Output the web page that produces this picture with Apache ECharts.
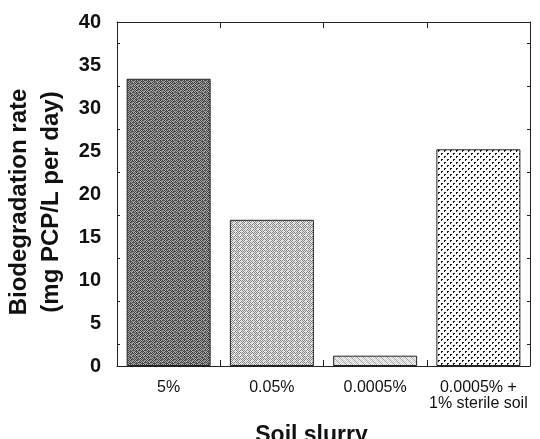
<!DOCTYPE html>
<html>
<head>
<meta charset="utf-8">
<script src="https://cdn.jsdelivr.net/npm/echarts@6/dist/echarts.min.js"></script>
<style>
  html, body { margin: 0; padding: 0; background: #fff; }
  #chart { width: 540px; height: 439px; }
</style>
</head>
<body>
<div id="chart"></div>
<script>
// soil slurry concentrations
var categories = ['5%', '0.05%', '0.0005%', '0.0005% +\n1% sterile soil'];
// biodegradation rate, mg PCP/L per day
var rates = [33.4, 17.0, 1.2, 25.2];
var yTicks = [0, 5, 10, 15, 20, 25, 30, 35, 40];

// small tiles used as bar fills (scanned look)
function makeTile(size, paint) {
  var c = document.createElement('canvas');
  c.width = size; c.height = size;
  var ctx = c.getContext('2d');
  for (var y = 0; y < size; y++) {
    for (var x = 0; x < size; x++) {
      ctx.fillStyle = paint(x, y);
      ctx.fillRect(x, y, 1, 1);
    }
  }
  return { image: c, repeat: 'repeat' };
}
var fills = [
  makeTile(6, function (x, y) {
    if ((x + y) % 2 == 0) return ((x * 5 + y * 3) % 7 == 0) ? '#8a8a8a' : '#444444';
    return ((x * 3 + y) % 5 == 0) ? '#5a5a5a' : '#a8a8a8';
  }),
  makeTile(6, function (x, y) {
    if ((x + y) % 2 == 0) return ((x * 5 + y * 3) % 7 == 0) ? '#d8d8d8' : '#858585';
    return '#e8e8e8';
  }),
  makeTile(6, function (x, y) {
    if ((x + y) % 2 == 0) return ((x + y * 2) % 3 == 0) ? '#9a9a9a' : '#d0d0d0';
    return '#f2f2f2';
  }),
  makeTile(6, function (x, y) {
    var a = (x < 2 && y < 1) || (x < 1 && y < 2);
    var b = (x >= 3 && x < 5 && y == 3) || (x == 3 && y == 4);
    return (a || b) ? '#1a1a1a' : '#ffffff';
  })
];

var barData = rates.map(function (v, i) {
  return { value: v, itemStyle: { color: fills[i] } };
});

var font = 'Liberation Sans, Arial, sans-serif';
var chart = echarts.init(document.getElementById('chart'));

var option = {
  backgroundColor: '#fff',
  animation: false,
  grid: { left: 117, right: 10, top: 22, bottom: 73, outerBoundsMode: 'none', containLabel: false },
  xAxis: [
    {
      type: 'category',
      data: categories,
      position: 'bottom',
      name: 'Soil slurry',
      nameLocation: 'middle',
      nameGap: 58,
      nameTextStyle: { fontFamily: font, fontSize: 23, fontWeight: 'bold', color: '#111', padding: [0, 24, 0, 0] },
      axisLine: { onZero: false, lineStyle: { color: '#222', width: 1 } },
      axisTick: { show: true, inside: true, length: 6, interval: 0, lineStyle: { color: '#222' } },
      axisLabel: { interval: 0, fontFamily: font, fontSize: 16, color: '#111', margin: 14, lineHeight: 16 }
    },
    {
      type: 'category',
      data: categories,
      position: 'top',
      axisLine: { show: true, onZero: false, lineStyle: { color: '#222', width: 1 } },
      axisTick: { show: true, inside: true, length: 6, interval: 0, lineStyle: { color: '#222' } },
      axisLabel: { show: false }
    }
  ],
  yAxis: [
    {
      type: 'value',
      min: yTicks[0],
      max: yTicks[yTicks.length - 1],
      interval: 5,
      position: 'left',
      name: 'Biodegradation rate\n(mg PCP/L per day)',
      nameLocation: 'middle',
      nameGap: 47,
      nameTextStyle: { fontFamily: font, fontSize: 24, fontWeight: 'bold', color: '#111', lineHeight: 32, padding: [0, 16, 0, 0] },
      axisLine: { show: true, onZero: false, lineStyle: { color: '#222', width: 1 } },
      axisTick: { inside: true, length: 5, lineStyle: { color: '#222' } },
      minorTick: { show: true, splitNumber: 2, length: 3, lineStyle: { color: '#222' } },
      splitLine: { show: false },
      axisLabel: { fontFamily: font, fontSize: 20, fontWeight: 'bold', color: '#111', margin: 16 }
    },
    {
      type: 'value',
      min: yTicks[0],
      max: yTicks[yTicks.length - 1],
      interval: 5,
      position: 'right',
      axisLine: { show: true, onZero: false, lineStyle: { color: '#222', width: 1 } },
      axisTick: { inside: true, length: 5, lineStyle: { color: '#222' } },
      minorTick: { show: true, splitNumber: 2, length: 3, lineStyle: { color: '#222' } },
      splitLine: { show: false },
      axisLabel: { show: false }
    }
  ],
  series: [
    {
      type: 'bar',
      data: barData,
      barWidth: 84,
      itemStyle: { borderColor: '#222', borderWidth: 1 }
    }
  ]
};

chart.setOption(option);
</script>
</body>
</html>
